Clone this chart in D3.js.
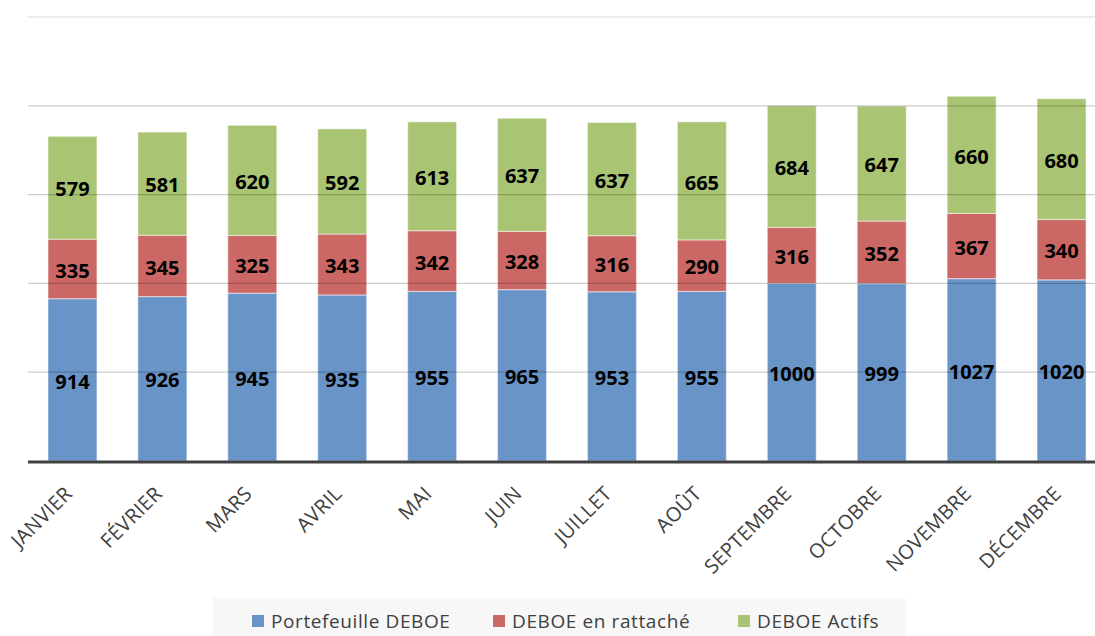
<!DOCTYPE html>
<html><head><meta charset="utf-8">
<script src="https://cdn.jsdelivr.net/npm/d3@7"></script>
<style>body{margin:0;background:#fff}svg{display:block}</style>
</head><body>
<svg id="c" width="1095" height="636"></svg>
<script>
const months = ["JANVIER","FÉVRIER","MARS","AVRIL","MAI","JUIN","JUILLET","AOÛT","SEPTEMBRE","OCTOBRE","NOVEMBRE","DÉCEMBRE"];
const portefeuille = [914,926,945,935,955,965,953,955,1000,999,1027,1020];
const rattache = [335,345,325,343,342,328,316,290,316,352,367,340];
const actifs = [579,581,620,592,613,637,637,665,684,647,660,680];
const seriesNames = ["Portefeuille DEBOE","DEBOE en rattaché","DEBOE Actifs"];
const yTicks = [500,1000,1500,2000,2500];
const colors = ["#6894c8","#cb6765","#a9c472"];

(function(){
const svg = d3.select("#c");
const mLeft = 27.5, mRight = 1106.5, mTop = 17, mBottom = 461;
const gridLeft = 28, gridRight = 1095;
const x = d3.scaleBand().domain(months).range([mLeft,mRight]).paddingInner(0.455).paddingOuter(0.2275);
const y = d3.scaleLinear().domain([0,2500]).range([mBottom,mTop]);

const rows = months.map((m,i)=>({month:m, s0:portefeuille[i], s1:rattache[i], s2:actifs[i]}));
const stack = d3.stack().keys(["s0","s1","s2"])(rows);

const g = svg.append("g");
stack.forEach((layer,k)=>{
  g.selectAll(null).data(layer).enter().append("rect")
    .attr("x",d=>x(d.data.month)).attr("width",x.bandwidth())
    .attr("y",d=>y(d[1])).attr("height",d=>y(d[0])-y(d[1]))
    .attr("fill",colors[k]).attr("stroke","rgba(255,255,255,0.45)").attr("stroke-width",1.2);
});

svg.append("g").selectAll("line").data(yTicks).enter().append("line")
  .attr("x1",gridLeft).attr("x2",gridRight).attr("y1",d=>y(d)).attr("y2",d=>y(d))
  .attr("stroke",d=>d===2500?"rgba(0,0,0,0.1)":"rgba(0,0,0,0.2)").attr("stroke-width",1.3);

const lbl = svg.append("g");
stack.forEach((layer,k)=>{
  lbl.selectAll(null).data(layer).enter().append("text")
    .attr("x",d=>x(d.data.month)+x.bandwidth()/2)
    .attr("y",d=>(y(d[0])+y(d[1]))/2)
    .attr("dy",8.7).attr("text-anchor","middle")
    .attr("font-family","Open Sans, sans-serif").attr("font-weight","bold")
    .attr("font-size",20).attr("fill","#000")
    .text(d=>d[1]-d[0]);
});

const xa = svg.append("g").attr("transform",`translate(0,${mBottom})`)
  .call(d3.axisBottom(x).tickSize(0).tickPadding(0));
xa.select(".domain").remove();
svg.append("line").attr("x1",gridLeft).attr("x2",gridRight).attr("y1",mBottom+1).attr("y2",mBottom+1)
  .attr("stroke","#404040").attr("stroke-width",3);
xa.selectAll("text")
  .attr("font-family","Open Sans, sans-serif").attr("font-size",20).attr("fill","#404040")
  .attr("letter-spacing",0.3)
  .attr("text-anchor","end").attr("dy",0).attr("y",0)
  .attr("transform","translate(1,34) rotate(-45)");

const lg = svg.append("g");
lg.append("rect").attr("x",213).attr("y",598).attr("width",693).attr("height",40).attr("fill","#f7f7f7");
const lx = [252,493,738];
seriesNames.forEach((n,i)=>{
  lg.append("rect").attr("x",lx[i]).attr("y",615).attr("width",12).attr("height",12).attr("fill",colors[i]);
  lg.append("text").attr("x",lx[i]+19).attr("y",627.5)
    .attr("font-family","Open Sans, sans-serif").attr("font-size",19).attr("letter-spacing",0.6)
    .attr("fill","#404040").text(n);
});
})();
</script>
</body></html>
